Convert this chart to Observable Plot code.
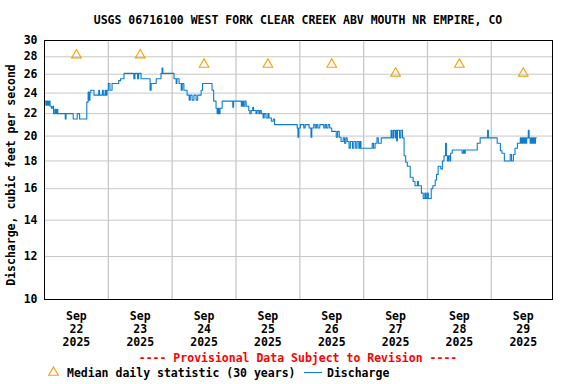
<!DOCTYPE html>
<html>
<head>
<meta charset="utf-8">
<script src="https://cdn.jsdelivr.net/npm/d3@7"></script>
<script src="https://cdn.jsdelivr.net/npm/@observablehq/plot@0.6"></script>
<style>
  html, body { margin: 0; padding: 0; background: white; }
  #wrap { position: relative; width: 576px; height: 384px; overflow: hidden; }
  .txt { position: absolute; font-family: 'DejaVu Sans Mono', monospace; font-weight: bold; font-size: 11.5px; line-height: 12px; white-space: pre; color: black; }
</style>
</head>
<body>
<div id="wrap"></div>
<script>
// ---- data ----
const title = "USGS 06716100 WEST FORK CLEAR CREEK ABV MOUTH NR EMPIRE, CO";
const yLabel = "Discharge, cubic feet per second";
const provisional = "---- Provisional Data Subject to Revision ----";
const legendMedian = "Median daily statistic (30 years)";
const legendDischarge = "Discharge";

const yTicks = [10, 12, 14, 16, 18, 20, 22, 24, 26, 28, 30];
const dayLabels = ["22", "23", "24", "25", "26", "27", "28", "29"];
const medianCfs = [28.2, 28.2, 27.1, 27.1, 27.1, 26.1, 27.1, 26.1];

// [hours after 2025-09-22 00:00, discharge cfs]
const discharge = [
[0,23.2],[0.5,22.8],[0.9,23.2],[1.3,22.8],[1.7,23.2],[2.1,22.7],[2.6,22.5],[3.1,22.7],[3.4,22.0],[3.9,22.4],[4.3,22.0],[4.7,22.4],[5.0,22.0],[7.8,21.5],[8.1,22.0],[10.8,21.5],[12.3,22.0],[13.2,21.5],[15.9,23.1],[16.4,24.1],[16.7,23.3],[17.1,24.1],[17.4,24.3],[18.6,23.8],[20.4,24.3],[20.7,23.8],[21.8,24.3],[22.1,23.8],[22.8,24.3],[23.1,23.8],[23.5,24.3],[24.0,25.0],[24.6,24.3],[25.4,25.0],[27.9,25.3],[28.6,25.5],[29.9,26.1],[33.6,25.5],[34.0,26.1],[35.0,25.5],[35.4,26.1],[36.3,25.5],[39.7,24.3],[40.1,25.0],[42.0,25.5],[43.8,26.1],[44.2,26.7],[44.5,26.1],[48.7,25.5],[49.5,25.0],[49.8,25.5],[50.6,25.0],[51.4,24.3],[51.8,25.0],[52.4,24.3],[53.6,23.8],[54.4,23.3],[54.8,23.8],[55.5,23.3],[56.2,23.8],[57.0,23.3],[57.6,23.8],[58.9,24.3],[59.4,25.0],[63.0,24.3],[63.6,23.2],[64.5,22.5],[64.9,22.0],[65.3,22.5],[65.6,22.0],[66.0,22.5],[66.8,23.2],[70.8,22.6],[71.1,23.2],[74.0,22.7],[74.4,23.2],[74.8,22.7],[75.3,23.2],[75.8,22.7],[76.8,22.3],[77.2,22.0],[77.7,22.3],[78.3,22.6],[78.6,22.3],[79.5,22.0],[79.9,22.3],[80.6,22.0],[81.0,22.3],[81.5,22.0],[82.2,21.6],[82.6,22.0],[83.3,21.6],[84.0,22.0],[84.4,21.6],[85.3,21.3],[86.0,21.5],[86.5,21.0],[95.0,20.7],[95.3,19.9],[95.6,20.7],[96.2,21.0],[97.5,20.7],[98.0,21.0],[99.5,20.7],[100.2,19.9],[100.5,20.7],[101.2,21.0],[101.8,20.7],[102.3,21.0],[102.8,20.7],[103.5,21.0],[105.0,20.7],[105.5,21.0],[106.0,20.7],[106.6,21.0],[107.2,20.7],[108.0,20.4],[109.7,19.9],[110.2,20.4],[110.8,19.9],[111.5,19.55],[112.3,19.85],[112.8,19.4],[113.3,19.85],[113.8,19.55],[114.5,19.0],[115.0,19.55],[115.8,19.0],[116.3,19.55],[117.0,19.0],[117.5,19.55],[118.2,19.0],[118.6,19.55],[119.0,19.0],[123.2,19.4],[123.7,19.0],[124.3,19.4],[125.0,19.85],[125.5,19.4],[126.6,19.85],[130.3,20.5],[130.7,19.85],[131.2,20.5],[131.8,19.85],[132.2,20.5],[132.4,19.6],[132.7,20.5],[133.5,19.85],[134.0,20.5],[134.6,19.85],[135.2,18.4],[135.8,17.9],[136.4,17.6],[137.5,16.8],[138.6,16.5],[139.3,16.2],[140.2,16.5],[140.6,16.2],[141.7,15.7],[142.4,15.35],[143.0,15.7],[143.4,15.35],[143.9,15.7],[144.3,15.35],[145.4,16.0],[146.0,16.2],[146.9,16.6],[147.4,17.0],[148.0,17.6],[149.0,17.4],[149.6,18.0],[150.2,18.4],[150.8,19.4],[151.1,18.4],[151.5,18.0],[151.9,18.4],[152.4,18.0],[152.7,18.6],[153.3,18.85],[157.0,18.6],[157.5,18.85],[157.9,18.6],[158.2,18.85],[162.7,19.4],[163.8,19.85],[166.6,20.5],[166.9,19.85],[170.2,19.4],[171.4,18.8],[172.0,18.6],[172.9,18.0],[175.1,18.5],[175.6,18.0],[176.3,18.5],[176.9,19.0],[177.8,19.4],[178.9,19.85],[179.3,19.4],[179.7,19.85],[180.1,19.4],[180.5,19.85],[180.9,19.4],[181.3,19.85],[181.9,20.5],[182.2,19.85],[182.6,19.4],[183.0,19.85],[183.4,19.4],[183.8,19.85],[184.2,19.4],[184.6,19.85],[184.9,19.85]
];

// ---- build ----
const start = Date.UTC(2025, 8, 22);
const toDate = h => new Date(start + h * 3600e3);
const lineData = discharge.map(([h, v]) => ({date: toDate(h), cfs: v}));
const noonTicks = dayLabels.map((d, i) => toDate(i * 24 + 12));
const dayBounds = d3.range(1, 8).map(i => toDate(i * 24));
const medians = medianCfs.map((v, i) => ({date: toDate(i * 24 + 12), cfs: v}));
const labelFor = new Map(noonTicks.map((d, i) => [+d, `Sep\n${dayLabels[i]}\n2025`]));

const blue = "#0b7dd0";
const orange = "#f5a100";

const chart = Plot.plot({
  width: 576,
  height: 384,
  marginTop: 40,
  marginBottom: 85,
  marginLeft: 44,
  marginRight: 24,
  style: {fontFamily: "'DejaVu Sans Mono', monospace", fontSize: "11.5px", fontWeight: "bold", background: "white", color: "black"},
  x: {type: "utc", domain: [toDate(0), toDate(191)]},
  y: {type: "log", domain: [10, 30]},
  marks: [
    Plot.gridX(dayBounds, {stroke: "#c8c8c8", strokeOpacity: 1, strokeWidth: 1.3}),
    Plot.gridY(yTicks, {stroke: "#c8c8c8", strokeOpacity: 1}),
    Plot.line(lineData, {x: "date", y: "cfs", curve: "step-after", stroke: blue, strokeWidth: 1.1}),
    Plot.dot(medians, {x: "date", y: "cfs", symbol: "triangle", r: 3.6, stroke: orange, fill: "none", strokeWidth: 1.1}),
    Plot.frame({stroke: "black"}),
    Plot.axisY(yTicks, {tickSize: 0, tickPadding: 7, label: null, tickFormat: d => String(d), fill: "black"}),
    Plot.axisX(noonTicks, {tickSize: 0, tickPadding: 11, label: null, tickFormat: d => labelFor.get(+d), lineHeight: 1.13, fill: "black"}),
    Plot.text([yLabel], {text: d => d, frameAnchor: "left", textAnchor: "middle", lineAnchor: "middle", dx: -33, dy: 5, rotate: -90, fill: "black"})
  ]
});

const wrap = document.getElementById("wrap");
wrap.appendChild(chart);

function addText(text, left, top, width, align, color) {
  const el = document.createElement("div");
  el.className = "txt";
  el.textContent = text;
  el.style.left = left + "px";
  el.style.top = top + "px";
  if (width != null) el.style.width = width + "px";
  el.style.textAlign = align || "left";
  if (color) el.style.color = color;
  wrap.appendChild(el);
  return el;
}
addText(title, 44, 14, 508, "center");
addText(provisional, 44, 352, 508, "center", "#ff0000");
addText(legendMedian, 67, 367);
addText(legendDischarge, 327, 367);

// legend swatches
const ns = "http://www.w3.org/2000/svg";
const sw = document.createElementNS(ns, "svg");
sw.setAttribute("width", 576);
sw.setAttribute("height", 384);
sw.style.position = "absolute";
sw.style.left = "0px";
sw.style.top = "0px";
sw.style.pointerEvents = "none";
const tri = document.createElementNS(ns, "path");
tri.setAttribute("d", d3.symbol(d3.symbolTriangle, Math.PI * 3.6 * 3.6)());
tri.setAttribute("transform", "translate(53.5,372.5)");
tri.setAttribute("fill", "none");
tri.setAttribute("stroke", orange);
tri.setAttribute("stroke-width", 1.1);
sw.appendChild(tri);
const ln = document.createElementNS(ns, "line");
ln.setAttribute("x1", 304); ln.setAttribute("x2", 322);
ln.setAttribute("y1", 372.5); ln.setAttribute("y2", 372.5);
ln.setAttribute("stroke", blue);
ln.setAttribute("stroke-width", 1.1);
sw.appendChild(ln);
wrap.appendChild(sw);
</script>
</body>
</html>
